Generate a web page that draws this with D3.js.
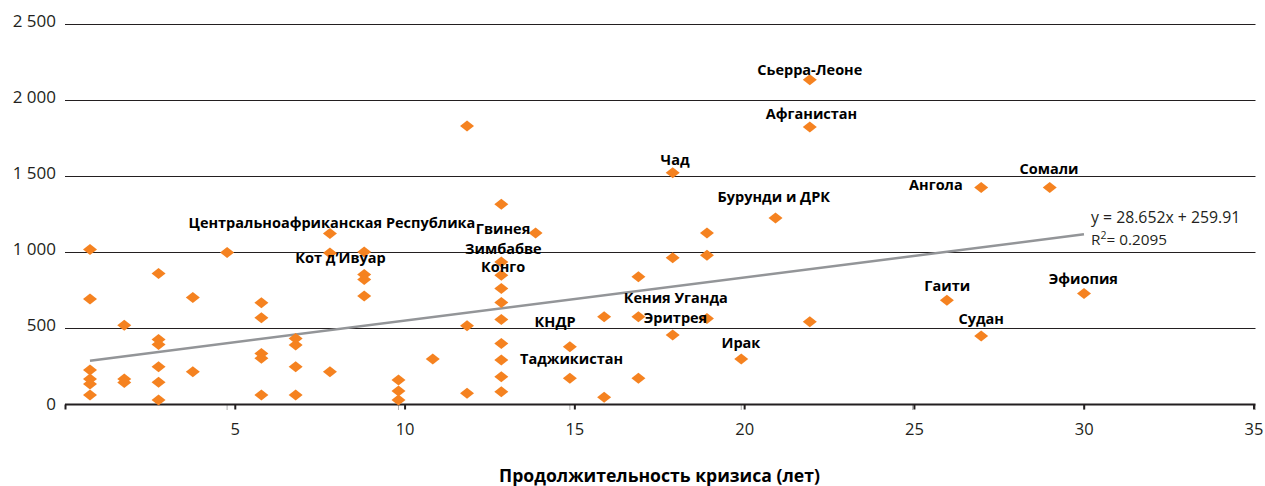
<!DOCTYPE html>
<html>
<head>
<meta charset="utf-8">
<script src="https://cdn.jsdelivr.net/npm/d3@7"></script>
<style>
  html, body { margin: 0; padding: 0; background: #fff; }
  svg { display: block; font-family: "Open Sans", "Noto Sans", sans-serif; }
</style>
</head>
<body>
<svg id="chart" width="1265" height="486"></svg>
<script>
// ---- data ----
const crisisYears = [
  1,1,1,1,1,1,
  2,2,2,
  3,3,3,3,3,3,
  4,4,
  5,
  6,6,6,6,6,
  7,7,7,7,
  8,8,8,
  9,9,9,9,
  10,10,10,
  11,
  12,12,12,
  13,13,13,13,13,13,13,13,13,13,
  14,
  15,15,
  16,16,
  17,17,17,
  18,18,18,
  19,19,19,
  20,
  21,
  22,22,22,
  26,
  27,27,
  29,
  30
];
const values = [
  1020,694,227,168,135,62,
  522,168,145,
  862,428,395,248,146,30,
  704,216,
  1000,
  669,570,336,304,62,
  435,391,248,62,
  1125,997,216,
  1004,855,822,713,
  161,89,30,
  299,
  1832,518,74,
  1317,938,851,763,671,560,402,292,183,84,
  1129,
  380,172,
  577,47,
  840,577,172,
  1525,965,457,
  1129,982,566,
  299,
  1227,
  2137,1825,544,
  686,
  1427,450,
  1427,
  731
];
const labelNames = ["Сьерра-Леоне","Афганистан","Чад","Бурунди и ДРК","Ангола","Сомали",
  "Центральноафриканская Республика","Гвинея","Зимбабве","Кот д’Ивуар","Конго",
  "Кения Уганда","Эритрея","КНДР","Ирак","Таджикистан","Гаити","Эфиопия","Судан"];
const labelX = [22.0,22.05,18.07,20.95,25.68,28.98,8.06,13.05,13.06,8.31,13.05,18.09,18.08,14.57,19.99,15.05,26.01,29.98,27.0];
const labelY = [2171,1880,1578,1332,1409,1514,1158,1124,993,928,873,665,538,511,369,264,746,796,529];
const yTicks = [0,500,1000,1500,2000,2500];
const yTickLabels = ["0","500","1 000","1 500","2 000","2 500"];
const xTicks = [5,10,15,20,25,30,35];
const trendSlope = 28.652, trendIntercept = 259.91;
const trendRange = [1,30];
const trendText = ["y = 28.652x + 259.91", "R", "2", "= 0.2095"];
const xTitle = "Продолжительность кризиса (лет)";

// ---- scales ----
const xPt = d3.scaleLinear().domain([1,30]).range([90,1084]);   // plotted marks
const xAx = d3.scaleLinear().domain([0,35]).range([65,1253.5]); // drawn axis ticks
const y = d3.scaleLinear().domain([0,2500]).range([404.5,24.5]);

const svg = d3.select("#chart");
const ink = "#231f20";
const orange = "#f58220";

// gridlines
svg.append("g").selectAll("line").data(yTicks.filter(d => d > 0)).join("line")
  .attr("x1", xAx(0)).attr("x2", xAx(35) + 2)
  .attr("y1", d => y(d)).attr("y2", d => y(d))
  .attr("stroke", ink).attr("stroke-width", 1);

// y labels
svg.append("g").selectAll("text").data(yTicks).join("text")
  .attr("x", 56).attr("y", d => y(d) + (d === 0 ? 5 : 2.5))
  .attr("text-anchor", "end").attr("font-size", 17).attr("fill", ink)
  .text((d,i) => yTickLabels[i]);

// faint ticks (plot positions)
svg.append("g").selectAll("line").data(xTicks).join("line")
  .attr("x1", d => xPt(d)).attr("x2", d => xPt(d))
  .attr("y1", y(0)).attr("y2", y(0) + 5.5)
  .attr("stroke", "#b0b0b0").attr("stroke-width", 1);

// x axis
const axis = svg.append("g").attr("transform", `translate(0,${y(0)})`)
  .call(d3.axisBottom(xAx).tickValues([0].concat(xTicks)).tickSize(5).tickPadding(14)
    .tickFormat(d => d === 0 ? "" : d));
axis.select(".domain").attr("stroke", ink).attr("stroke-width", 2)
  .attr("d", `M${xAx(0)},0H${xAx(35) + 2}`);
axis.selectAll(".tick line").attr("stroke", ink).attr("stroke-width", 2);
axis.selectAll(".tick text").attr("font-size", 16.5).attr("fill", ink)
  .attr("font-family", '"Open Sans", sans-serif');

// trend line
svg.append("line")
  .attr("x1", xPt(trendRange[0])).attr("y1", y(trendSlope*trendRange[0] + trendIntercept))
  .attr("x2", xPt(trendRange[1])).attr("y2", y(trendSlope*trendRange[1] + trendIntercept))
  .attr("stroke", "#939598").attr("stroke-width", 2.5);

// points
const diamond = "M0,-5.5L7,0L0,5.5L-7,0Z";
svg.append("g").selectAll("path").data(values).join("path")
  .attr("d", diamond)
  .attr("transform", (d,i) => `translate(${xPt(crisisYears[i])},${y(d)})`)
  .attr("fill", orange);

// trend text
const tx = xPt(trendRange[1]) + 7;
const ty = y(trendSlope*trendRange[1] + trendIntercept);
svg.append("text").attr("x", tx).attr("y", ty - 11)
  .attr("font-size", 15.8).attr("fill", ink).text(trendText[0]);
const t2 = svg.append("text").attr("x", tx).attr("y", ty + 10.5)
  .attr("font-size", 15.3).attr("fill", ink);
t2.append("tspan").text(trendText[1]);
t2.append("tspan").attr("dy", -6).attr("font-size", 10.5).text(trendText[2]);
t2.append("tspan").attr("dy", 6).text(trendText[3]);

// labels
svg.append("g").selectAll("text").data(labelNames).join("text")
  .attr("x", (d,i) => xPt(labelX[i])).attr("y", (d,i) => y(labelY[i]))
  .attr("text-anchor", "middle").attr("font-size", 14.5).attr("font-weight", 700)
  .attr("fill", "#000").text(d => d);

// x title
svg.append("text").attr("x", 659.5).attr("y", 482)
  .attr("text-anchor", "middle").attr("font-size", 17.6).attr("font-weight", 700)
  .attr("fill", "#000").text(xTitle);
</script>
</body>
</html>
